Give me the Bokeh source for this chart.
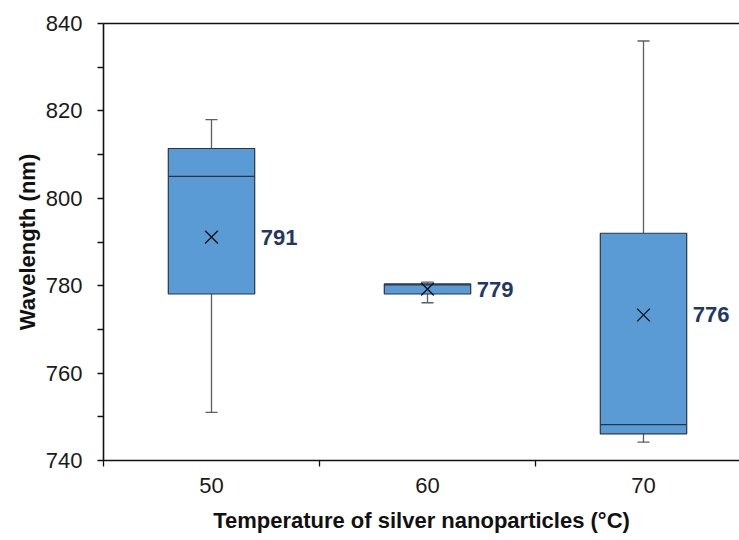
from bokeh.plotting import figure
from bokeh.models import Range1d, FixedTicker, LinearAxis, ColumnDataSource
from bokeh.core.properties import value
from bokeh.embed import file_html
from bokeh.resources import INLINE

# ---- data ----
categories = ["50", "60", "70"]
q1 = [778.1, 778.1, 746.1]
median = [805.0, 780.2, 748.2]
q3 = [811.4, 780.4, 792.0]
whisker_low = [751.0, 776.1, 744.2]
whisker_high = [818.0, 780.8, 836.0]
mean = [791.1, 779.2, 773.3]
mean_labels = ["791", "779", "776"]
y_ticks = [740, 760, 780, 800, 820, 840]
y_minor = [750, 770, 790, 810, 830]

FONT = "Liberation Sans"
FS = "22px"
centers = [i + 0.5 for i in range(len(categories))]
box_w = 0.4
cap_w = 0.056

src = ColumnDataSource(dict(
    x=centers, q1=q1, med=median, q3=q3, lo=whisker_low, hi=whisker_high,
    mean=mean, lab=mean_labels,
    xl=[c - box_w / 2 for c in centers], xr=[c + box_w / 2 for c in centers],
    cl=[c - cap_w / 2 for c in centers], cr=[c + cap_w / 2 for c in centers],
    tx=[c + 0.228 for c in centers],
))

p = figure(width=739, height=540, output_backend="svg", toolbar_location=None,
           x_range=Range1d(0, 636 / 216), y_range=Range1d(740, 840),
           min_border_left=103, min_border_right=0, min_border_top=23,
           min_border_bottom=80, outline_line_color=None)
p.xgrid.visible = False
p.ygrid.visible = False
p.background_fill_color = "white"
p.border_fill_color = "white"

# whiskers
wc = "#5f5f5f"
p.segment(x0="x", x1="x", y0="q3", y1="hi", source=src, line_color=wc, line_width=1.3)
p.segment(x0="x", x1="x", y0="q1", y1="lo", source=src, line_color=wc, line_width=1.3)
p.segment(x0="cl", x1="cr", y0="hi", y1="hi", source=src, line_color=wc, line_width=1.3)
p.segment(x0="cl", x1="cr", y0="lo", y1="lo", source=src, line_color=wc, line_width=1.3)

# boxes
p.vbar(x="x", width=box_w, bottom="q1", top="q3", source=src,
       fill_color="#5B9BD5", line_color="#2a3445", line_width=1.2)
p.segment(x0="xl", x1="xr", y0="med", y1="med", source=src, line_color="#2a3445", line_width=1.2)

# means
p.scatter(x="x", y="mean", source=src, marker="x", size=18, line_color="#111111", line_width=1.3)
p.text(x="tx", y="mean", text="lab", source=src, text_font=value(FONT),
       text_font_style="bold", text_font_size=FS, text_color="#1F3864",
       text_baseline="middle", text_align="left")

# y axis
ya = p.yaxis[0]
ya.ticker = FixedTicker(ticks=y_ticks, minor_ticks=y_minor)
ya.axis_label = "Wavelength (nm)"
ya.axis_label_text_font = FONT
ya.axis_label_text_font_style = "bold"
ya.axis_label_text_font_size = FS
ya.axis_label_text_color = "#111111"
ya.axis_label_standoff = 3
ya.major_label_text_font = FONT
ya.major_label_text_font_size = FS
ya.major_label_text_color = "#1a1a1a"
ya.major_label_standoff = 15
ya.major_tick_out = 6
ya.major_tick_in = 0
ya.minor_tick_out = 6
ya.minor_tick_in = 0
ya.axis_line_width = 1.6
ya.axis_line_color = "#111111"
ya.major_tick_line_color = "#111111"
ya.minor_tick_line_color = "#111111"
ya.major_tick_line_width = 1.3
ya.minor_tick_line_width = 1.3

# x axis
xa = p.xaxis[0]
xa.ticker = FixedTicker(ticks=centers, minor_ticks=[0, 1, 2, 3])
xa.major_label_overrides = {c: lab for c, lab in zip(centers, categories)}
xa.axis_label = "Temperature of silver nanoparticles (°C)"
xa.axis_label_text_font = FONT
xa.axis_label_text_font_style = "bold"
xa.axis_label_text_font_size = FS
xa.axis_label_text_color = "#111111"
xa.axis_label_standoff = 12
xa.major_label_text_font = FONT
xa.major_label_text_font_size = FS
xa.major_label_text_color = "#1a1a1a"
xa.major_label_standoff = 11
xa.major_tick_out = 0
xa.major_tick_in = 0
xa.minor_tick_out = 6
xa.minor_tick_in = 0
xa.axis_line_width = 1.6
xa.axis_line_color = "#111111"
xa.minor_tick_line_color = "#111111"
xa.minor_tick_line_width = 1.3

# top border line
top = LinearAxis(ticker=FixedTicker(ticks=[]), major_label_text_font_size="0px",
                 major_tick_line_color=None, minor_tick_line_color=None,
                 axis_line_width=1.6, axis_line_color="#111111", major_label_standoff=0)
p.add_layout(top, "above")

open("out.html", "w").write(file_html(p, INLINE))
